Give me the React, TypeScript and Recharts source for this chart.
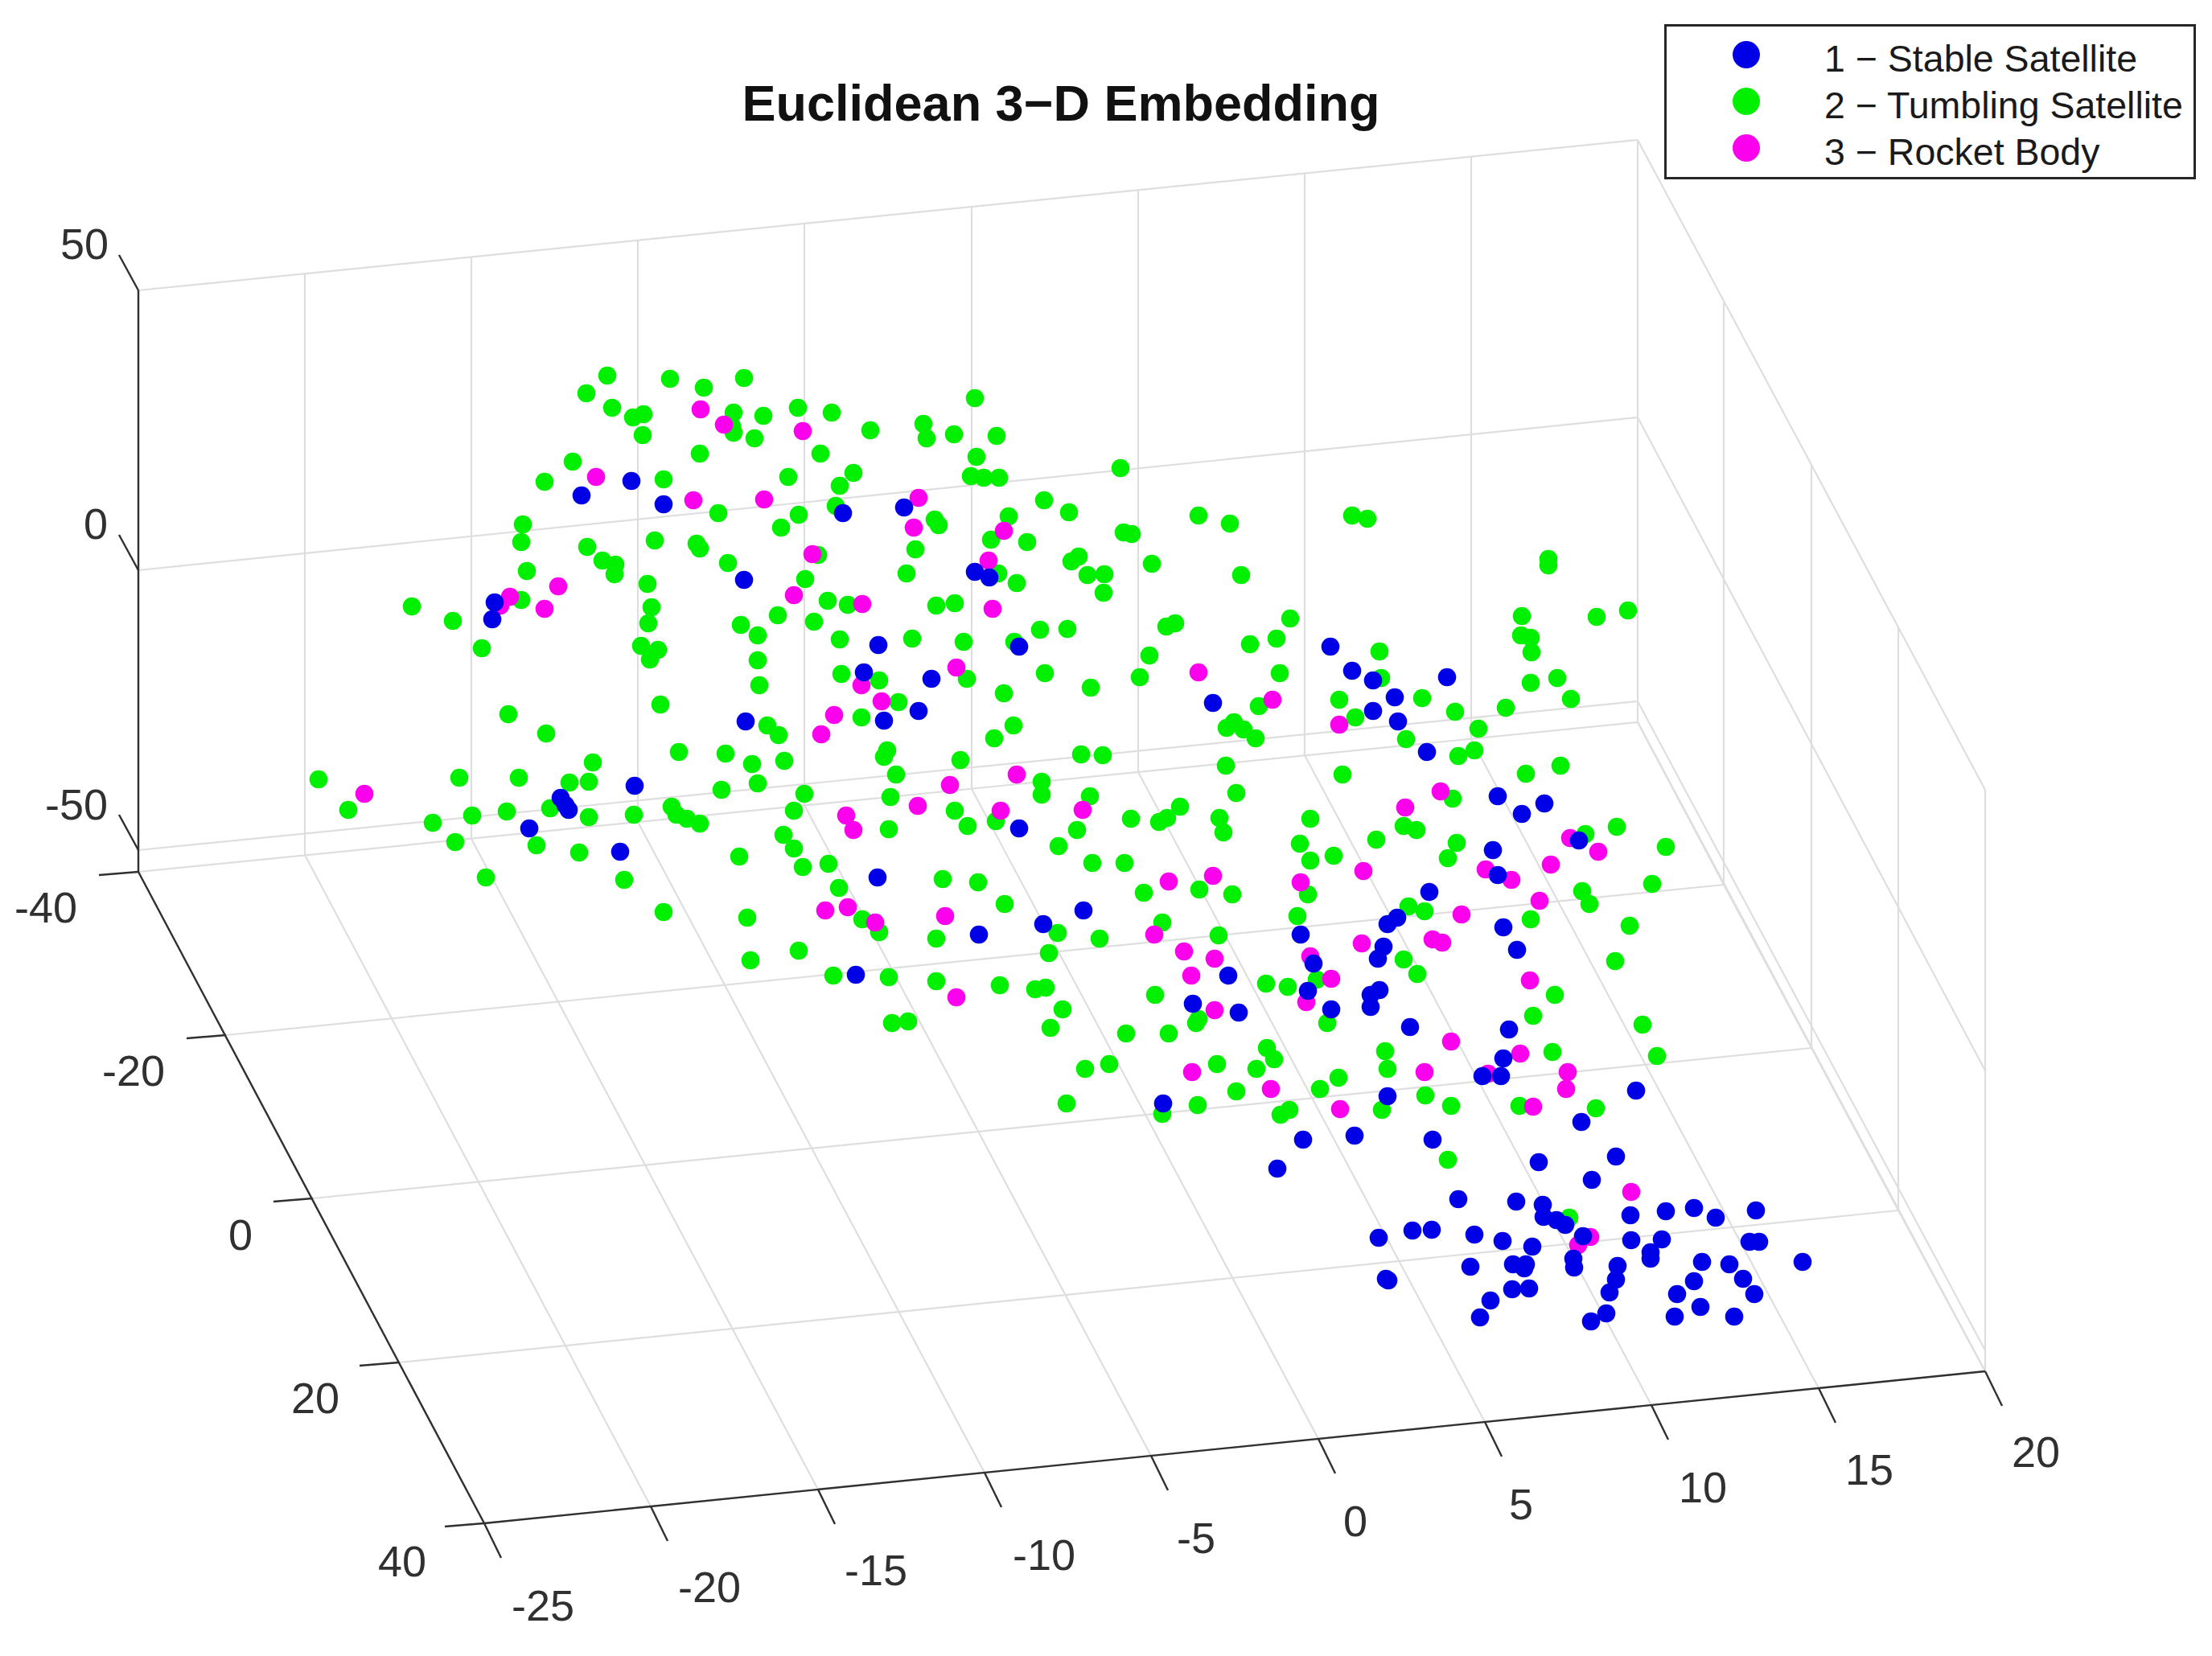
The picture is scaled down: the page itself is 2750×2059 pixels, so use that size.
import React from "react";
import { ScatterChart, Scatter, XAxis, YAxis, ReferenceLine, ReferenceDot } from "recharts";

type P = [number, number];

const WIDTH = 2750;
const HEIGHT = 2059;
const TITLE = "Euclidean 3\u2212D Embedding";

// Points, on the projected plane of the 3-D view.
const tumbling: P[] = [
  [755,467],[729,489],[833,471],[875,482],[925,470],[761,507],[787,519],[800,515],[799,541],[912,513],[949,517],[992,507],[1034,513],[910,530],[912,538],[938,545],[870,564],[1020,564],[712,574],[677,599],[825,596],[980,593],[1044,604],[1039,629],[893,638],[993,640],[971,656],[650,652],[648,674],[814,672],[730,680],[866,676],[870,682],[749,697],[765,702],[764,714],[905,700],[1017,690],[655,710],[1001,720],[805,726],[648,746],[512,754],[563,772],[810,755],[806,775],[1029,747],[967,765],[1012,773],[921,777],[942,790],[1044,795],[599,806],[797,803],[818,808],[808,820],[942,821],[1046,838],[944,852],[821,876],[632,888],[679,912],[954,902],[968,914],
  [1212,495],[1082,535],[1148,527],[1152,545],[1186,540],[1239,542],[1214,568],[1061,588],[1207,592],[1223,594],[1242,594],[1393,582],[1298,622],[1329,637],[1254,642],[1162,646],[1167,653],[1232,671],[1277,674],[1490,641],[1529,651],[1681,641],[1700,645],[1397,662],[1407,664],[1138,683],[1341,692],[1332,698],[1432,701],[1127,713],[1241,713],[1352,715],[1373,714],[1543,715],[1264,725],[1372,737],[1054,752],[1164,753],[1187,750],[1604,769],[1450,779],[1461,775],[1293,783],[1327,782],[1134,794],[1198,798],[1261,798],[1587,794],[1554,801],[1715,810],[1429,815],[1299,837],[1591,837],[1093,846],[1202,844],[1417,842],[1717,843],[1356,855],[1248,862],[1665,870],[1117,873],[1565,878],[1071,892],[1260,902],[1685,892],[1525,905],[1534,898],[1546,907],[1561,918],[1236,918],
  [844,935],[902,937],[737,948],[935,950],[975,946],[396,969],[571,967],[645,967],[708,973],[732,972],[942,974],[897,982],[1000,987],[433,1007],[630,1009],[684,1005],[587,1014],[538,1023],[732,1016],[788,1013],[835,1003],[841,1013],[854,1018],[870,1024],[987,1008],[974,1038],[566,1047],[667,1051],[720,1060],[919,1065],[987,1055],[998,1078],[1030,1074],[604,1091],[776,1094],[1043,1104],[825,1134],[929,1141],[993,1182],[933,1194],[1036,1213],
  [1103,933],[1099,941],[1114,963],[1194,945],[1107,991],[1344,938],[1371,939],[1295,972],[1295,988],[1524,952],[1669,963],[1355,990],[1537,986],[1187,1008],[1203,1027],[1105,1031],[1238,1021],[1406,1018],[1441,1022],[1451,1017],[1467,1003],[1516,1017],[1521,1035],[1629,1018],[1339,1032],[1316,1052],[1616,1049],[1658,1064],[1629,1070],[1358,1073],[1398,1073],[1172,1093],[1216,1097],[1422,1110],[1491,1106],[1532,1112],[1626,1112],[1249,1124],[1445,1147],[1613,1139],[1072,1143],[1093,1159],[1164,1167],[1315,1160],[1367,1167],[1515,1163],[1304,1185],[1105,1215],[1164,1220],[1243,1225],[1287,1230],[1300,1228],[1436,1237],[1574,1223],[1601,1227],[1637,1218],[1321,1255],[1490,1267],[1487,1272],[1306,1278],[1109,1272],[1129,1270],[1400,1285],[1453,1285],[1650,1272],[1575,1303],[1584,1317],[1379,1323],[1349,1329],[1513,1323],[1562,1329],[1537,1357],[1664,1340],[1641,1354],[1326,1372],[1489,1374],[1445,1385],[1603,1380],[1592,1386],
  [1925,695],[1925,703],[1768,868],[1809,885],[1872,880],[1838,906],[1892,766],[1891,790],[1903,793],[1904,811],[1903,849],[1936,843],[1953,869],[1985,767],[2024,759],[1748,919],[1813,940],[1833,933],
  [1897,962],[1940,952],[1806,993],[2010,1028],[1745,1027],[1761,1032],[1971,1037],[1711,1044],[1811,1048],[1800,1067],[2071,1053],[1967,1108],[1976,1124],[2054,1099],[1751,1127],[1771,1133],[1903,1143],[2026,1151],[1745,1193],[1762,1211],[2008,1195],[1933,1237],[1906,1263],[2042,1274],[1722,1307],[1930,1308],[1725,1329],[2060,1313],[1772,1362],[1718,1380],[1804,1375],[1889,1375],[1984,1378],[1800,1442],[1951,1514],
];

const rocketBody: P[] = [
  [871,509],[900,528],[998,536],[741,593],[862,622],[950,621],[1010,689],[694,729],[634,742],[622,753],[677,757],[987,740],[1037,889],[1021,913],
  [1142,619],[1136,656],[1248,660],[1229,697],[1072,751],[1234,757],[1189,830],[1071,852],[1096,872],[1490,836],[1582,870],[1665,901],
  [453,987],[1026,1132],
  [1264,963],[1181,976],[1141,1002],[1052,1014],[1061,1032],[1244,1008],[1346,1007],[1453,1096],[1508,1089],[1617,1097],[1695,1083],[1054,1128],[1175,1139],[1088,1147],[1435,1162],[1472,1183],[1510,1192],[1481,1213],[1629,1189],[1693,1173],[1655,1217],[1189,1240],[1510,1256],[1624,1246],[1482,1333],[1580,1354],[1666,1379],
  [1791,984],[1747,1004],[1952,1042],[1987,1059],[1928,1075],[1847,1081],[1879,1094],[1914,1120],[1817,1137],[1781,1168],[1793,1172],[1902,1219],[1804,1295],[1890,1310],[1771,1333],[1850,1335],[1949,1333],[1947,1354],[1906,1376],
  [2028,1482],[1977,1538],[1962,1548],
];

const stable: P[] = [
  [785,598],[723,616],[825,627],[1048,638],[925,721],[615,749],[612,770],[927,897],
  [1124,631],[1212,711],[1230,718],[1654,804],[1092,802],[1267,804],[1074,836],[1158,844],[1681,834],[1707,846],[1142,884],[1099,896],[1508,874],[1734,867],[1707,884],[1738,897],
  [789,977],[697,992],[703,1001],[707,1007],[658,1030],[771,1059],
  [1267,1030],[1091,1091],[1347,1132],[1297,1149],[1217,1162],[1617,1162],[1633,1198],[1064,1212],[1527,1213],[1626,1232],[1483,1248],[1540,1259],[1655,1255],[1446,1372],
  [1799,842],[1774,935],
  [1862,990],[1920,999],[1892,1012],[1963,1045],[1856,1057],[1862,1088],[1777,1109],[1737,1141],[1725,1149],[1869,1153],[1886,1181],[1720,1177],[1713,1192],[1715,1231],[1704,1237],[1704,1252],[1753,1277],[1876,1280],[1869,1316],[1843,1338],[1866,1338],[1725,1363],[2034,1356],[1966,1395],[1781,1417],[1913,1445],[2009,1438],[1684,1412],[1620,1417],[1588,1453],
  [1979,1467],[1813,1491],[1885,1494],[1918,1498],[1919,1513],[1935,1517],[1946,1523],[2027,1511],[2071,1506],[2106,1502],[2133,1514],[2183,1505],[1968,1537],[2028,1542],[2066,1541],[2052,1557],[2052,1565],[2175,1544],[2187,1544],[1714,1539],[1756,1530],[1780,1529],[1833,1535],[1868,1543],[1905,1550],[1828,1575],[1881,1572],[1897,1572],[1895,1577],[1956,1565],[1957,1576],[2011,1574],[2009,1591],[2001,1607],[2116,1569],[2150,1572],[2241,1569],[2106,1593],[2167,1590],[1723,1590],[1726,1592],[1880,1603],[1901,1602],[2085,1609],[2181,1609],[1853,1617],[1840,1638],[1997,1633],[1978,1643],[2114,1625],[2082,1637],[2156,1637],
];

// Tick labels with the spot where each sits.
const zTicks = [{ t: "50", x: 105, y: 303 }, { t: "0", x: 119, y: 651 }, { t: "-50", x: 95, y: 1000 }];
const yTicks = [{ t: "-40", x: 57, y: 1128 }, { t: "-20", x: 166, y: 1331 }, { t: "0", x: 299, y: 1535 }, { t: "20", x: 392, y: 1738 }, { t: "40", x: 500, y: 1941 }];
const xTicks = [{ t: "-25", x: 675, y: 1996 }, { t: "-20", x: 882, y: 1973 }, { t: "-15", x: 1089, y: 1952 }, { t: "-10", x: 1298, y: 1933 }, { t: "-5", x: 1487, y: 1912 }, { t: "0", x: 1685, y: 1891 }, { t: "5", x: 1891, y: 1870 }, { t: "10", x: 2117, y: 1849 }, { t: "15", x: 2324, y: 1827 }, { t: "20", x: 2531, y: 1805 }];

// Box corners of the 3-D frame, from the picture.
const backFloorX = [172, 379, 586, 793, 1000, 1208, 1415, 1622, 1829, 2036];
const backFloorY = [1084, 1063, 1043, 1022, 1001, 981, 960, 939, 919, 898];
const frontFloorX = [602, 809, 1017, 1224, 1431, 1639, 1846, 2053, 2261, 2468];
const frontFloorY = [1894, 1873, 1852, 1831, 1810, 1789, 1768, 1747, 1726, 1705];
const leftFloorX = [172, 281, 389, 496, 602];
const leftFloorY = [1084, 1287, 1490, 1694, 1894];
const rightFloorX = [2036, 2143, 2252, 2360, 2468];
const rightFloorY = [898, 1100, 1303, 1505, 1705];
const wallTopY = [361, 340, 320, 299, 278, 257, 237, 216, 195, 174];
const wallZ0 = [[172, 709], [2036, 519], [2468, 1331]];
const wallZm50 = [[172, 1057], [2036, 872], [2468, 1679]];
const wallZ50 = [[172, 361], [2036, 174], [2468, 982]];

type Seg = [number, number, number, number];
const gridSegs: Seg[] = [];
backFloorX.forEach((x, i) => {
  gridSegs.push([x, backFloorY[i], frontFloorX[i], frontFloorY[i]]);
  gridSegs.push([x, wallTopY[i], x, backFloorY[i]]);
});
leftFloorX.forEach((x, i) => gridSegs.push([x, leftFloorY[i], rightFloorX[i], rightFloorY[i]]));
rightFloorX.forEach((x, i) => {
  if (i > 0) {
    const f = i / 4;
    gridSegs.push([x, wallZ50[1][1] + (wallZ50[2][1] - wallZ50[1][1]) * f, x, rightFloorY[i]]);
  }
});
rightFloorX.slice(0, 4).forEach((x, i) => gridSegs.push([x, rightFloorY[i], rightFloorX[i + 1], rightFloorY[i + 1]]));
[wallZ0, wallZm50, wallZ50].forEach((w) => {
  gridSegs.push([w[0][0], w[0][1], w[1][0], w[1][1]]);
  gridSegs.push([w[1][0], w[1][1], w[2][0], w[2][1]]);
});

const axisSegs: Seg[] = [
  [172, 361, 172, 1084],
  [172, 1084, 602, 1894],
  [602, 1894, 2468, 1705],
];
leftFloorX.forEach((x, i) => axisSegs.push([x, leftFloorY[i], x - 49, leftFloorY[i] + 4]));
frontFloorX.forEach((x, i) => axisSegs.push([x, frontFloorY[i], x + 21, frontFloorY[i] + 43]));
[wallZ50[0], wallZ0[0], wallZm50[0]].forEach((p) => axisSegs.push([p[0], p[1], p[0] - 24, p[1] - 44]));

const toPts = (a: P[]) => a.map(([x, y]) => ({ x, y }));
const FONT = '"Liberation Sans", Arial, sans-serif';
const INK = "#303030";

const dot = (fill: string) => (props: any) => <circle cx={props.cx} cy={props.cy} r={11.3} fill={fill} />;

const seriesColors = { stable: "#0000E6", tumbling: "#00F000", rocket: "#FA00EC" };
const legendItems = [
  { label: "1 \u2212 Stable Satellite", color: seriesColors.stable },
  { label: "2 \u2212 Tumbling Satellite", color: seriesColors.tumbling },
  { label: "3 \u2212 Rocket Body", color: seriesColors.rocket },
];

const LegendBox = () => (
  <div style={{ position: "absolute", left: 2069, top: 30, width: 655, height: 187, border: "3px solid #262626", background: "#fff", fontFamily: FONT, fontSize: 46.5, color: "#1a1a1a" }}>
    {legendItems.map((it, i) => (
      <div key={it.label} style={{ position: "absolute", left: 0, top: [6, 64, 122][i], height: 58, width: 650, whiteSpace: "nowrap", lineHeight: "58px" }}>
        <span style={{ position: "absolute", left: 82, top: 12, width: 34, height: 34, borderRadius: 17, background: it.color }} />
        <span style={{ position: "absolute", left: 196, top: 5 }}>{it.label}</span>
      </div>
    ))}
  </div>
);

export default function App() {
  const labelStyle = { fontFamily: FONT, fontSize: 54, fill: INK };
  const textDot = (key: string, t: string, x: number, y: number) => (
    <ReferenceDot key={key} x={x} y={y} r={0} fill="none" stroke="none" ifOverflow="visible"
      label={{ value: t, position: "center", ...labelStyle }} />
  );
  return (
    <div style={{ position: "absolute", left: 0, top: 0, width: WIDTH, height: HEIGHT, background: "#fff" }}>
      <ScatterChart width={WIDTH} height={HEIGHT} margin={{ top: 0, right: 0, bottom: 0, left: 0 }}>
        <XAxis type="number" dataKey="x" domain={[0, WIDTH]} hide allowDataOverflow />
        <YAxis type="number" dataKey="y" domain={[0, HEIGHT]} reversed hide allowDataOverflow />
        {gridSegs.map((s, i) => (
          <ReferenceLine key={"g" + i} segment={[{ x: s[0], y: s[1] }, { x: s[2], y: s[3] }]} stroke="#dedede" strokeWidth={2.2} ifOverflow="visible" />
        ))}
        {axisSegs.map((s, i) => (
          <ReferenceLine key={"a" + i} segment={[{ x: s[0], y: s[1] }, { x: s[2], y: s[3] }]} stroke={INK} strokeWidth={2.4} ifOverflow="visible" />
        ))}
        <Scatter name="2 - Tumbling Satellite" data={toPts(tumbling)} fill={seriesColors.tumbling} shape={dot(seriesColors.tumbling)} isAnimationActive={false} />
        <Scatter name="3 - Rocket Body" data={toPts(rocketBody)} fill={seriesColors.rocket} shape={dot(seriesColors.rocket)} isAnimationActive={false} />
        <Scatter name="1 - Stable Satellite" data={toPts(stable)} fill={seriesColors.stable} shape={dot(seriesColors.stable)} isAnimationActive={false} />
        {zTicks.map((d, i) => textDot("z" + i, d.t, d.x, d.y))}
        {yTicks.map((d, i) => textDot("y" + i, d.t, d.x, d.y))}
        {xTicks.map((d, i) => textDot("x" + i, d.t, d.x, d.y))}
        <ReferenceDot x={1319} y={128} r={0} fill="none" stroke="none" ifOverflow="visible"
          label={{ value: TITLE, position: "center", fontFamily: FONT, fontSize: 63, fontWeight: 700, fill: "#111" }} />
      </ScatterChart>
      <LegendBox />
    </div>
  );
}
